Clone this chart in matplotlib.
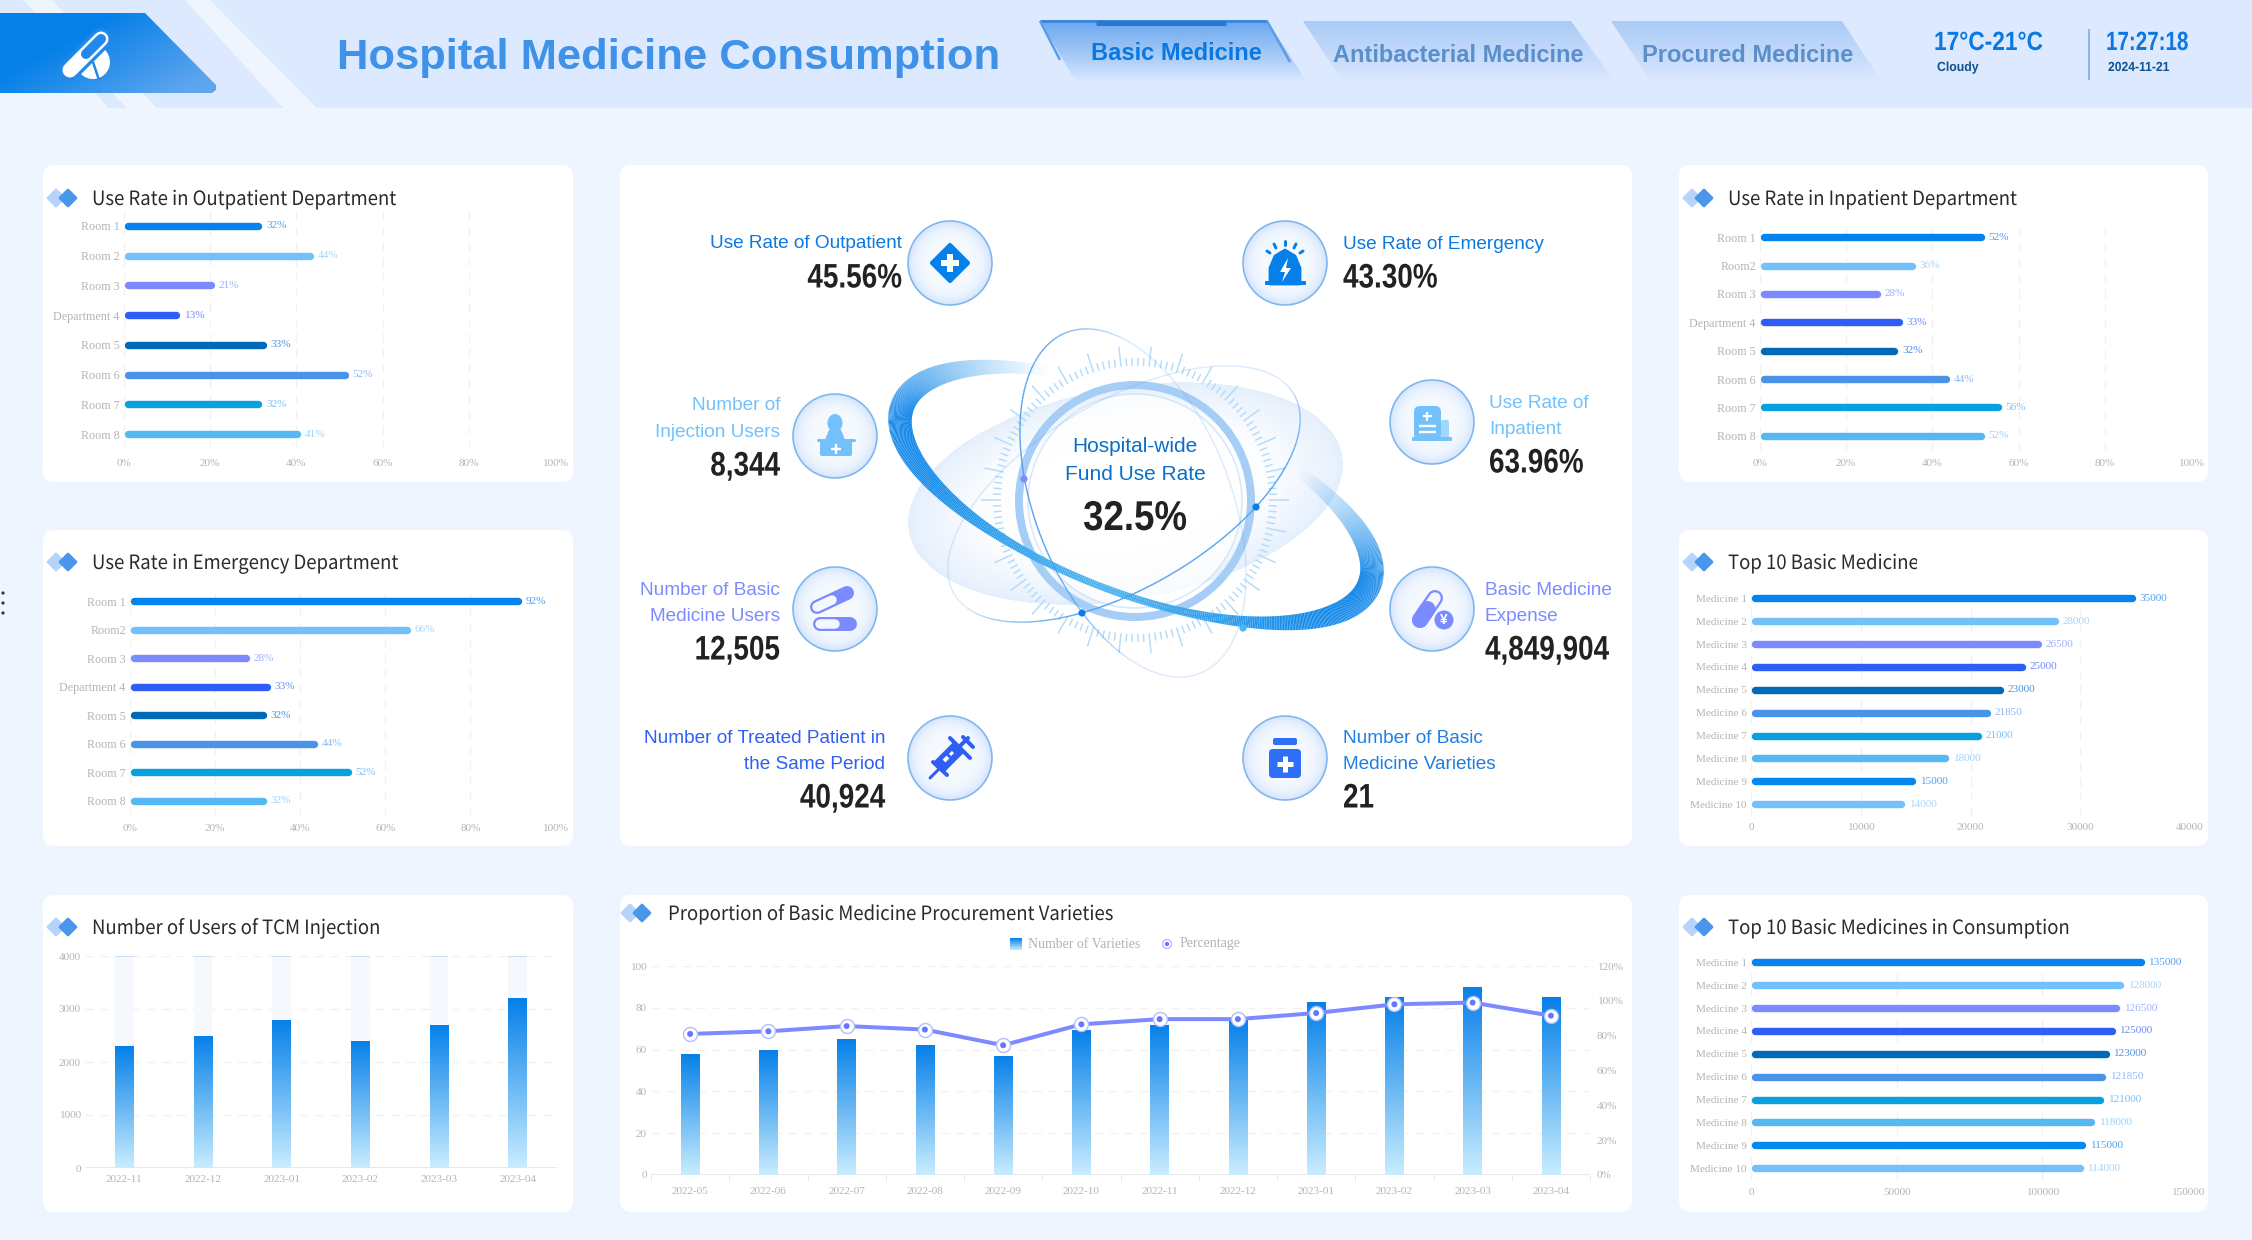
#!/usr/bin/env python3
# -*- coding: utf-8 -*-

import numpy as np
import matplotlib
matplotlib.use('Agg')
import matplotlib.pyplot as plt
from matplotlib.collections import LineCollection
from matplotlib.colors import to_rgb
from matplotlib.patches import Circle, Ellipse, FancyBboxPatch, Polygon, Wedge
from matplotlib.patheffects import AbstractPathEffect
from matplotlib.transforms import Affine2D, Bbox

plt.rcParams['font.family'] = ['Liberation Serif', 'DejaVu Sans']

W, H = 2252, 1240
NOTO = ['Noto Sans CJK JP', 'DejaVu Sans']
SANS = ['Liberation Sans', 'DejaVu Sans']

# data
rooms_a = ['Room 1', 'Room 2', 'Room 3', 'Department 4', 'Room 5', 'Room 6', 'Room 7', 'Room 8']
rooms_b = ['Room 1', 'Room2', 'Room 3', 'Department 4', 'Room 5', 'Room 6', 'Room 7', 'Room 8']
outpatient_rate = [32, 44, 21, 13, 33, 52, 32, 41]
inpatient_rate = [52, 36, 28, 33, 32, 44, 56, 52]
emergency_rate = [92, 66, 28, 33, 32, 44, 52, 32]
pct_ticks = [0, 20, 40, 60, 80, 100]

medicines = ['Medicine %d' % i for i in range(1, 11)]
top_basic = [35000, 28000, 26500, 25000, 23000, 21850, 21000, 18000, 15000, 14000]
top_consumption = [135000, 128000, 126500, 125000, 123000, 121850, 121000, 118000, 115000, 114000]

tcm_months = ['2022-11', '2022-12', '2023-01', '2023-02', '2023-03', '2023-04']
tcm_users = [2300, 2500, 2800, 2400, 2700, 3200]

proc_months = ['2022-05', '2022-06', '2022-07', '2022-08', '2022-09', '2022-10',
               '2022-11', '2022-12', '2023-01', '2023-02', '2023-03', '2023-04']
proc_varieties = [58, 60, 65, 62, 57, 69.5, 72, 75, 83, 85, 90, 85]
proc_percent = [81, 82.5, 85.5, 83.5, 74.5, 86.5, 89.5, 89.5, 93, 98, 99, 91.5]

kpi_values = ['45.56%', '43.30%', '8,344', '63.96%', '12,505', '4,849,904', '40,924', '21']
bar_colors = ['#0583ec', '#72c1fb', '#7b8bff', '#2f5ef5', '#0069b8', '#4a94e8', '#08a0de',
              '#55b8f2', '#0588ee', '#72c1fb']
label_colors = ['#4ea2f2', '#a4d6fb', '#a3afff', '#6f8cf8', '#4a94e0', '#8dbaf0', '#7cc0f5',
                '#9bd2f8', '#4ea2f2', '#a4d6fb']

BG = '#eef5fe'
HEAD = '#dde9fe'
TICK = '#b4b4b4'
GRID = '#f1f1f1'

fig = plt.figure(figsize=(W / 100, H / 100), dpi=100, facecolor=BG)
bg = fig.add_axes([0, 0, 1, 1])
bg.set_xlim(0, W)
bg.set_ylim(H, 0)
bg.set_autoscale_on(False)
bg.axis('off')


class Squeeze(AbstractPathEffect):
    # narrows a text horizontally around x, the fonts here have no condensed cut
    def __init__(self, sx, x):
        super().__init__()
        self.sx = sx
        self.x = x

    def draw_path(self, renderer, gc, tpath, affine, rgbFace=None):
        a = affine + Affine2D().translate(-self.x, 0).scale(self.sx, 1).translate(self.x, 0)
        renderer.draw_path(gc, tpath, a, rgbFace)


def narrow_text(x, y, s, size, sx, color, ha='left', weight='bold', family=SANS):
    return bg.text(x, y, s, family=family, weight=weight, fontsize=size, color=color, va='center', ha=ha,
                   zorder=5, path_effects=[Squeeze(sx, x)])


def px(v):
    return v * 0.72


def px_axes(x0, y0, x1, y1):
    ax = fig.add_axes([x0 / W, 1 - y1 / H, (x1 - x0) / W, (y1 - y0) / H])
    ax.patch.set_alpha(0)
    for s in ax.spines.values():
        s.set_visible(False)
    return ax


def ramp(c0, c1, n=256):
    a, b = np.array(to_rgb(c0)), np.array(to_rgb(c1))
    f = np.linspace(0, 1, n)[:, None]
    return (a * (1 - f) + b * f)[:, None, :]


def card(x0, y0, x1, y1):
    bg.add_patch(FancyBboxPatch((x0, y0), x1 - x0, y1 - y0, boxstyle='round,pad=0,rounding_size=11',
                                fc='white', ec='none', zorder=1))


def line(xs, ys, color, w, z=6, cap='round'):
    bg.plot(xs, ys, color=color, lw=px(w), solid_capstyle=cap, zorder=z)


def panel_title(x, y, text, d0, d1):
    bg.add_patch(Polygon([(d0 - 8, y), (d0, y - 8), (d0 + 8, y), (d0, y + 8)], fc='#b6d3fb', ec='#b6d3fb',
                         lw=2, joinstyle='round', zorder=3))
    bg.add_patch(Polygon([(d1 - 8, y), (d1, y - 8), (d1 + 8, y), (d1, y + 8)], fc='#4a96ea', ec='#4a96ea',
                         lw=2, joinstyle='round', zorder=3))
    return narrow_text(x, y + 1.5, text, 14.2, 0.94, '#2a2a2a', weight='normal', family=NOTO)


def hbar_chart(box, cats, vals, xmax, ticks, tick_labels, suffix='', pad=6.0, ysize=8.1):
    ax = px_axes(*box)
    n = len(cats)
    r = 3.6 * xmax / (box[2] - box[0])
    for i, v in enumerate(vals):
        ax.hlines(i, r, v - r, color=bar_colors[i], lw=px(7.4), capstyle='round', zorder=3)
        ax.annotate('%s%s' % (v, suffix), (v, i), xytext=(3, 0), textcoords='offset points', va='center',
                    ha='left', fontsize=8.1, color=label_colors[i], zorder=4)
    ax.set_xlim(0, xmax)
    ax.set_ylim(n - 0.5, -0.5)
    ax.set_yticks(range(n), cats)
    ax.set_xticks(ticks, tick_labels)
    ax.tick_params(length=0, labelsize=8.1, labelcolor=TICK)
    ax.tick_params(axis='x', pad=pad)
    ax.tick_params(axis='y', pad=3, labelsize=ysize)
    ax.grid(axis='x', color=GRID, lw=1, ls=(0, (6, 5)), zorder=0)
    ax.set_axisbelow(True)
    return ax


def grad_bars(ax, xs, vals, width):
    bars = ax.bar(xs, vals, width, color='none', zorder=3)
    for b in bars:
        im = ax.imshow(ramp('#0580e8', '#c9edff'), extent=(b.get_x(), b.get_x() + b.get_width(), 0, b.get_height()),
                       aspect='auto', zorder=3)
        im.set_clip_path(b)
    ax.hlines(0, xs[0] - 0.5, xs[-1] + 0.5, color='#e8e8e8', lw=1.4, zorder=2)
    return bars


# header
bg.add_patch(Polygon([(0, 0), (W, 0), (W, 108), (0, 108)], fc=HEAD, ec='none', zorder=0))
for poly in ([(23, 0), (52, 0), (157, 108), (127, 108)], [(0, 92), (95, 92), (108, 108), (0, 108)],
             [(185, 0), (210, 0), (317, 108), (283, 108)]):
    bg.add_patch(Polygon(poly, fc=BG, ec='none', zorder=0.5))

logo = Polygon([(0, 13), (145, 13), (216, 85), (216, 90), (212, 93), (0, 93)], fc='none', ec='none', zorder=1)
bg.add_patch(logo)
yy, xx = np.mgrid[0:1:64j, 0:1:256j]
shade = np.clip(1.5 * (0.7 * xx + 0.45 * yy) - 0.55, 0, 1)[:, :, None]
logo_img = np.array(to_rgb('#0580e8')) * (1 - shade) + np.array(to_rgb('#5ea5ef')) * shade
im = bg.imshow(logo_img, extent=(0, 216, 93, 13), aspect='auto', zorder=1)
im.set_clip_path(logo)
bg.add_patch(Wedge((93, 62), 17, -45, 135, fc='white', ec='none', zorder=2))
line([93, 99], [62, 80], '#2488ea', 2.5, 2.5, 'butt')
line([70, 101], [70, 39], '#2488ea', 21, 3)
line([70, 101], [70, 39], 'white', 15, 3)
line([86, 101], [54, 39], '#2488ea', 10, 3)

bg.text(337, 58, 'Hospital Medicine Consumption', family=SANS, weight='bold', fontsize=31.3, color='#3f92e8',
        va='center', ha='left', zorder=5)


def tab(top0, top1, bot0, bot1, c):
    poly = Polygon([(top0, 21), (top1, 21), (bot1, 82), (bot0, 82)], fc='none', ec='none', zorder=1)
    bg.add_patch(poly)
    rgba = np.ones((64, 1, 4))
    rgba[:, :, :3] = to_rgb(c)
    rgba[:, 0, 3] = np.linspace(1, 0, 64) ** 0.9
    tim = bg.imshow(rgba, extent=(min(top0, bot0), max(top1, bot1), 82, 21), aspect='auto', zorder=1)
    tim.set_clip_path(poly)


tab(1040, 1267, 1076, 1307, '#6aa8f0')
tab(1303, 1571, 1343, 1615, '#a9cbf6')
tab(1611, 1842, 1651, 1882, '#a9cbf6')
line([1040, 1267], [21, 21], '#3c86dc', 3, 2, 'butt')
line([1096, 1226], [23, 23], '#2a78d4', 5, 2, 'butt')
line([1040, 1060], [21, 60], '#5b9de8', 2.5, 2, 'butt')
line([1267, 1290], [21, 62], '#5b9de8', 2.5, 2, 'butt')
bg.text(1176, 54, 'Basic Medicine', family=SANS, weight='bold', fontsize=17, color='#0a78e0', va='center', ha='center', zorder=5)
bg.text(1458, 55, 'Antibacterial Medicine', family=SANS, weight='bold', fontsize=17, color='#5b8fcb', va='center', ha='center', zorder=5)
bg.text(1748, 55, 'Procured Medicine', family=SANS, weight='bold', fontsize=17, color='#5b8fcb', va='center', ha='center', zorder=5)

narrow_text(1934, 43, '17°C-21°C', 19, 0.86, '#0a78e0')
narrow_text(1937, 68, 'Cloudy', 9.5, 0.93, '#10508f')
line([2089, 2089], [29, 80], '#6aa8ea', 1.5, 5, 'butt')
narrow_text(2106, 43, '17:27:18', 19, 0.78, '#0a78e0')
narrow_text(2108, 68, '2024-11-21', 9.5, 0.92, '#10508f')

# three dots at the left edge
for dot_y in (593, 603, 613):
    bg.add_patch(Circle((3, dot_y), 1.6, fc='#333333', ec='none', zorder=5))

# cards
for c in ((43, 165, 573, 482), (43, 530, 573, 846), (43, 895, 573, 1212),
          (620, 165, 1632, 846), (620, 895, 1632, 1212),
          (1679, 165, 2208, 482), (1679, 530, 2208, 846), (1679, 895, 2208, 1212)):
    card(*c)

panel_title(92, 198, 'Use Rate in Outpatient Department', 56, 68)
panel_title(92, 562, 'Use Rate in Emergency Department', 56, 68)
panel_title(92, 927, 'Number of Users of TCM Injection', 56, 68)
panel_title(668, 913, 'Proportion of Basic Medicine Procurement Varieties', 630, 642)
panel_title(1728, 198, 'Use Rate in Inpatient Department', 1692, 1704)
t10 = panel_title(1728, 562, 'Top 10 Basic Medicine', 1692, 1704)
t10.set_clip_box(Bbox([[1720, H - 600], [1917, H - 530]]))
t10.set_clip_on(True)
panel_title(1728, 927, 'Top 10 Basic Medicines in Consumption', 1692, 1704)

pct_labels = ['%d%%' % v for v in pct_ticks]
hbar_chart((124, 211, 555, 449), rooms_a, outpatient_rate, 100, pct_ticks, pct_labels, '%', 7, 8.7)
hbar_chart((130, 587, 555.5, 815), rooms_b, emergency_rate, 100, pct_ticks, pct_labels, '%', 6.5, 8.7)
hbar_chart((1760, 223, 2191, 450), rooms_b, inpatient_rate, 100, pct_ticks, pct_labels, '%', 6.5, 8.7)
hbar_chart((1751, 587, 2190, 815.5), medicines, top_basic, 40000, [0, 10000, 20000, 30000, 40000],
           ['0', '10000', '20000', '30000', '40000'], '', 5.5)
hbar_chart((1751, 951, 2188, 1179.5), medicines, top_consumption, 150000, [0, 50000, 100000, 150000],
           ['0', '50000', '100000', '150000'], '', 6)

# TCM injection chart
ax = px_axes(85, 956, 557, 1168)
xs = np.arange(len(tcm_users))
ax.bar(xs, [4000] * len(xs), 0.237, color='#f5f9fe', zorder=1)
ax.hlines([4000] * len(xs), xs - 0.118, xs + 0.118, color='#bcdcf7', lw=1.2, zorder=2)
grad_bars(ax, xs, tcm_users, 0.237)
ax.set_xlim(-0.5, 5.5)
ax.set_ylim(0, 4000)
ax.set_xticks(xs, tcm_months)
ax.set_yticks([0, 1000, 2000, 3000, 4000])
ax.tick_params(length=0, labelsize=8.1, labelcolor=TICK)
ax.tick_params(axis='x', pad=5)
ax.tick_params(axis='y', pad=3)
ax.grid(axis='y', color=GRID, lw=1, ls=(0, (6, 5)), zorder=0)
ax.set_axisbelow(True)

# procurement chart
ax = px_axes(651, 966, 1590, 1175)
xs = np.arange(len(proc_varieties))
grad_bars(ax, xs, proc_varieties, 0.238)
ax.set_xlim(-0.5, 11.5)
ax.set_ylim(0, 100)
ax.set_xticks(xs, proc_months)
ax.set_yticks([0, 20, 40, 60, 80, 100])
ax.set_xticks(np.arange(-0.5, 12), minor=True)
ax.tick_params(axis='both', which='major', length=0, labelsize=8.1, labelcolor=TICK)
ax.tick_params(axis='x', which='minor', length=4, color='#e4e4e4')
ax.tick_params(axis='x', which='major', pad=9)
ax.tick_params(axis='y', pad=3)
ax.grid(axis='y', color=GRID, lw=1, ls=(0, (6, 5)), zorder=0)
ax.set_axisbelow(True)
ax2 = ax.twinx()
ax2.patch.set_alpha(0)
for s in ax2.spines.values():
    s.set_visible(False)
ax2.plot(xs, proc_percent, color='#7b8bff', lw=px(4), zorder=5)
ax2.scatter(xs, proc_percent, s=(px(14)) ** 2, fc='white', ec='#b3bdff', lw=1, zorder=6)
ax2.scatter(xs, proc_percent, s=(px(6)) ** 2, fc='#6577ff', ec='none', zorder=7)
ax2.set_ylim(0, 120)
ax2.set_yticks([0, 20, 40, 60, 80, 100, 120], ['%d%%' % v for v in [0, 20, 40, 60, 80, 100, 120]])
ax2.tick_params(length=0, labelsize=8.1, labelcolor=TICK, pad=5)

# legend of the procurement chart
bg.imshow(ramp('#0580e8', '#c9edff'), extent=(1010, 1022, 950, 938), aspect='auto', zorder=4)
bg.text(1028, 944, 'Number of Varieties', fontsize=10, color=TICK, va='center', zorder=4)
bg.add_patch(Circle((1167, 944), 4.5, fc='white', ec='#b3bdff', lw=1, zorder=4))
bg.add_patch(Circle((1167, 944), 2.2, fc='#6577ff', ec='none', zorder=5))
bg.text(1180, 944, 'Percentage', fontsize=10, color=TICK, va='center', zorder=4)

# central figure
CX, CY = 1135, 500
gy, gx = np.mgrid[380:620, 890:1370]
ang = np.deg2rad(-10)
du = (gx - 1125) * np.cos(ang) + (gy - 493) * np.sin(ang)
dv = -(gx - 1125) * np.sin(ang) + (gy - 493) * np.cos(ang)
dist = np.sqrt((du / 220) ** 2 + (dv / 106) ** 2)
halo = np.ones(dist.shape + (4,))
halo[:, :, :3] = to_rgb('#c4dbfa')
halo[:, :, 3] = np.where(dist <= 1, np.clip((dist - 0.5) / 0.5, 0, 1) ** 1.6 * 0.45, 0)
bg.imshow(halo, extent=(890, 1370, 620, 380), aspect='auto', zorder=2)

angs = np.deg2rad(np.arange(150) * 2.4)
tick_segs, tick_w = [], []
for i, a in enumerate(angs):
    r1 = 154 if i % 5 == 0 else 142
    tick_segs.append([(CX + 134 * np.cos(a), CY + 134 * np.sin(a)), (CX + r1 * np.cos(a), CY + r1 * np.sin(a))])
    tick_w.append(px(1.5))
bg.add_collection(LineCollection(tick_segs, colors='#b4dcf9', linewidths=tick_w, zorder=2.5))

bg.add_patch(Circle((CX, CY + 1), 116, fc='none', ec='#a6cdf6', lw=px(8), zorder=3))
bg.add_patch(Circle((CX, CY + 1), 107, fc='white', ec='#c6e0fa', lw=px(1.5), alpha=0.75, zorder=2.8))


def orbit(cx, cy, a, b, deg, t0, t1, color_fn, width_fn, alpha_fn, z):
    t = np.deg2rad(np.linspace(t0, t1, 600))
    th = np.deg2rad(deg)
    x = cx + a * np.cos(t) * np.cos(th) - b * np.sin(t) * np.sin(th)
    y = cy + a * np.cos(t) * np.sin(th) + b * np.sin(t) * np.cos(th)
    pts = np.column_stack([x, y])
    segs = np.stack([pts[:-1], pts[1:]], axis=1)
    tm = np.rad2deg(0.5 * (t[:-1] + t[1:]))
    rgba = np.zeros((len(tm), 4))
    rgba[:, :3] = color_fn(tm)
    rgba[:, 3] = alpha_fn(tm)
    bg.add_collection(LineCollection(segs, colors=rgba, linewidths=px(width_fn(tm)), capstyle='butt', zorder=z))


C_TIP, C_MID = np.array(to_rgb('#0580e8')), np.array(to_rgb('#4fb5f0'))
orbit(1136, 495, 250, 98, 21, -55, 240,
      lambda d: np.outer(np.abs(np.cos(np.deg2rad(d))) ** 1.2, C_TIP) + np.outer(1 - np.abs(np.cos(np.deg2rad(d))) ** 1.2, C_MID),
      lambda d: 7 + 17 * np.abs(np.cos(np.deg2rad(d))) ** 2.6,
      lambda d: np.clip((d + 55) / 50, 0, 1) * np.clip((240 - d) / 65, 0, 1),
      3.5)
orbit(1133, 503, 183, 98, 68.6, 0, 360,
      lambda d: np.tile(to_rgb('#4f9eee'), (len(d), 1)),
      lambda d: np.full(len(d), 1.4),
      lambda d: 0.2 + 0.8 * np.clip(1.3 * np.cos(np.deg2rad(d - 125)), 0, 1),
      3.6)
orbit(1124, 494, 197, 93, -30.5, 0, 360,
      lambda d: np.tile(to_rgb('#4f9eee'), (len(d), 1)),
      lambda d: np.full(len(d), 1.4),
      lambda d: 0.2 + 0.8 * np.clip(1.3 * np.cos(np.deg2rad(d - 80)), 0, 1),
      3.6)
for dx, dy, c in ((1024, 479, '#7b8bff'), (1256, 507, '#0580e8'), (1082, 613, '#0580e8'), (1243, 628, '#4fb5f0')):
    bg.add_patch(Circle((dx, dy), 3.6, fc=c, ec='none', zorder=4))

bg.text(CX, 446, 'Hospital-wide', family=SANS, fontsize=15, color='#0a6fc8', va='center', ha='center', zorder=5)
bg.text(CX, 475, 'Fund Use Rate', family=SANS, fontsize=15, color='#0a6fc8', va='center', ha='center', zorder=5)
narrow_text(CX, 519, '32.5%', 30, 0.88, '#222222', ha='center')


def kpi(x, ha, ys, lines, value, color):
    for y, s in zip(ys[:-1], lines):
        bg.text(x, y + 1.5, s, family=SANS, fontsize=13.7, color=color, va='center', ha=ha, zorder=5)
    narrow_text(x, ys[-1] + 2, value, 24.5, 0.82, '#222222', ha=ha)


kpi(902, 'right', (242, 277), ['Use Rate of Outpatient'], kpi_values[0], '#0a78e0')
kpi(1343, 'left', (243, 277), ['Use Rate of Emergency'], kpi_values[1], '#0a78e0')
kpi(780, 'right', (404, 431, 465), ['Number of', 'Injection Users'], kpi_values[2], '#72c1fb')
kpi(1489, 'left', (402, 428, 462), ['Use Rate of', 'Inpatient'], kpi_values[3], '#72c1fb')
kpi(780, 'right', (589, 615, 649), ['Number of Basic', 'Medicine Users'], kpi_values[4], '#7b8bff')
kpi(1485, 'left', (589, 615, 649), ['Basic Medicine', 'Expense'], kpi_values[5], '#7b8bff')
kpi(885, 'right', (737, 763, 797), ['Number of Treated Patient in', 'the Same Period'], kpi_values[6], '#2f5ef5')
kpi(1343, 'left', (737, 763, 797), ['Number of Basic', 'Medicine Varieties'], kpi_values[7], '#1f7ee0')


def badge(cx, cy, r=42):
    n = 128
    gy2, gx2 = np.mgrid[-1:1:n * 1j, -1:1:n * 1j]
    d = np.clip(np.sqrt(gx2 ** 2 + gy2 ** 2), 0, 1)[:, :, None]
    f = d ** 5
    img = np.array(to_rgb('#f6faff')) * (1 - f) + np.array(to_rgb('#d3e4fc')) * f
    bim = bg.imshow(img, extent=(cx - r, cx + r, cy + r, cy - r), aspect='auto', zorder=4)
    edge = Circle((cx, cy), r, fc='none', ec='#7db6ef', lw=px(1.6), zorder=4.2)
    bg.add_patch(edge)
    bim.set_clip_path(edge)


centers = [(950, 263), (1285, 263), (835, 436), (1432, 422), (835, 609), (1432, 609), (950, 758), (1285, 758)]
for c in centers:
    badge(*c)


def fill_poly(pts, color, z=5, lw=0):
    bg.add_patch(Polygon(pts, fc=color, ec=color, lw=lw, joinstyle='round', zorder=z))


def rbox(x0, y0, x1, y1, color, rad=2, z=5):
    bg.add_patch(FancyBboxPatch((x0, y0), x1 - x0, y1 - y0, boxstyle='round,pad=0,rounding_size=%g' % rad,
                                fc=color, ec='none', zorder=z))


def plus(x, y, size, w, color='white', z=6):
    line([x - size, x + size], [y, y], color, w, z, 'butt')
    line([x, x], [y - size, y + size], color, w, z, 'butt')


# outpatient
fill_poly([(950, 245), (968, 263), (950, 281), (932, 263)], '#0580e8', 5, 3)
plus(950, 263, 9, 6)
# emergency
fill_poly([(1270, 284), (1270, 268), (1275, 256), (1285, 250), (1295, 256), (1300, 268), (1300, 284)], '#0580e8', 5, 2)
rbox(1265, 281, 1306, 285, '#0580e8', 1)
fill_poly([(1288, 258), (1280, 272), (1285, 272), (1282, 282), (1291, 268), (1286, 268)], 'white', 6)
line([1285, 1285], [241, 245], '#0580e8', 3)
line([1274, 1276], [244, 248], '#0580e8', 3)
line([1296, 1294], [244, 248], '#0580e8', 3)
line([1267, 1270], [251, 253], '#0580e8', 3)
line([1303, 1300], [251, 253], '#0580e8', 3)
# injection
bg.add_patch(Ellipse((835, 423), 15, 18, fc='#72c1fb', ec='none', zorder=5))
fill_poly([(826, 441), (830, 431), (840, 431), (844, 441)], '#72c1fb', 5, 2)
rbox(820, 440, 852, 456, '#72c1fb', 2)
line([818, 854], [440, 440], '#72c1fb', 3, 5)
plus(836, 449, 5, 2.4)
# inpatient
rbox(1414, 406, 1441, 440, '#72c1fb', 6)
rbox(1441, 420, 1449, 440, '#a2d6fb', 2)
rbox(1412, 437, 1452, 441, '#72c1fb', 1)
plus(1427, 416, 4.5, 2.2)
line([1419, 1436], [426, 426], 'white', 2.4, 6, 'butt')
line([1419, 1436], [432, 432], 'white', 2.4, 6, 'butt')


def capsule(x0, y0, x1, y1, w, color):
    line([x0, x1], [y0, y1], color, w, 5)
    mx, my = 0.5 * (x0 + x1), 0.5 * (y0 + y1)
    line([x0, mx], [y0, my], '#f3f7ff', w - 4.5, 5.2)


# pills
capsule(817, 607, 847, 593, 14, '#7b8bff')
capsule(820, 624, 850, 624, 14, '#7b8bff')
# expense
capsule(1435, 598, 1420, 620, 16, '#7b8bff')
line([1420, 1427.5], [620, 609], '#7b8bff', 16, 5.4)
bg.add_patch(Circle((1444, 620), 11, fc='#f3f7ff', ec='none', zorder=5.5))
bg.add_patch(Circle((1444, 620), 9.5, fc='#7b8bff', ec='none', zorder=5.6))
bg.text(1444, 620, '¥', family=SANS, fontsize=10, weight='bold', color='white', va='center', ha='center', zorder=6)
# syringe
line([930, 938], [778, 770], '#2f5ef5', 3, 5)
line([938, 958], [768, 748], '#2f5ef5', 15, 5, 'butt')
line([958, 968], [748, 738], '#2f5ef5', 4, 5)
line([963, 973], [737, 747], '#2f5ef5', 4, 5)
line([950, 970], [738, 758], '#2f5ef5', 4, 5)
line([933, 947], [762, 775], '#2f5ef5', 4, 5)
line([944, 948], [761, 757], 'white', 4, 6, 'butt')
line([950, 953], [755, 752], 'white', 3, 6, 'butt')
# bottle
rbox(1273, 738, 1297, 745, '#2f6ff5', 2)
rbox(1269, 749, 1301, 778, '#2f6ff5', 4)
plus(1285, 764, 8, 5)

fig.savefig('out.png', dpi=100, facecolor=BG)
